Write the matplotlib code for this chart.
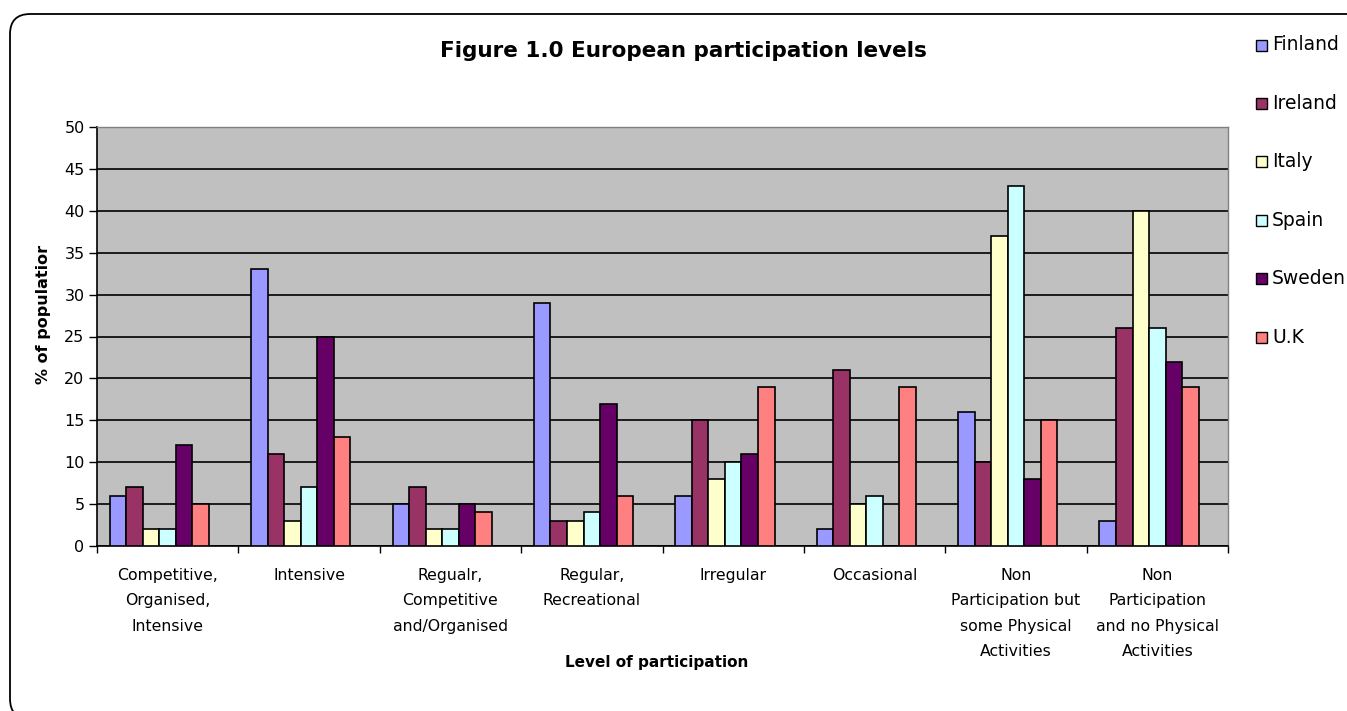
import matplotlib
matplotlib.use("Agg")
import matplotlib.pyplot as plt
import numpy as np
from matplotlib.patches import FancyBboxPatch, Rectangle

plt.rcParams['font.family'] = ['DejaVu Sans']

categories = ["Competitive,\nOrganised,\nIntensive", "Intensive",
              "Regualr,\nCompetitive\nand/Organised", "Regular,\nRecreational",
              "Irregular", "Occasional",
              "Non\nParticipation but\nsome Physical\nActivities",
              "Non\nParticipation\nand no Physical\nActivities"]
countries = ["Finland", "Ireland", "Italy", "Spain", "Sweden", "U.K"]
finland = [6, 33, 5, 29, 6, 2, 16, 3]
ireland = [7, 11, 7, 3, 15, 21, 10, 26]
italy = [2, 3, 2, 3, 8, 5, 37, 40]
spain = [2, 7, 2, 4, 10, 6, 43, 26]
sweden = [12, 25, 5, 17, 11, 0, 8, 22]
uk = [5, 13, 4, 6, 19, 19, 15, 19]
series = [finland, ireland, italy, spain, sweden, uk]
colors = ["#9999FF", "#993366", "#FFFFCC", "#CCFFFF", "#660066", "#FF8080"]

W, H = 1347, 711
fig = plt.figure(figsize=(W / 100, H / 100), dpi=100)
fig.patch.set_facecolor("white")

# rounded chart border (right and bottom edges run off the picture)
border = FancyBboxPatch((10 / W, -8 / H), 1400 / W, (H - 14 + 8) / H,
                        boxstyle="round,pad=0,rounding_size=0.015",
                        transform=fig.transFigure, facecolor="none",
                        edgecolor="black", linewidth=1.3, mutation_aspect=W / H)
fig.patches.append(border)

ax = fig.add_axes([97 / W, 1 - 546 / H, (1228 - 97) / W, (546 - 127) / H])
ax.set_facecolor("#C0C0C0")
x = np.arange(len(categories))
w = 0.117
for i, (vals, c) in enumerate(zip(series, colors)):
    ax.bar(x + (i - 3) * w, vals, width=w, color=c, edgecolor="black",
           linewidth=1.2, label=countries[i], zorder=3)

ax.set_xlim(-0.5, len(categories) - 0.5)
ax.set_ylim(0, 50)
ax.set_yticks(range(0, 51, 5))
ax.yaxis.grid(True, color="black", linewidth=1.2, zorder=1)
ax.set_axisbelow(True)
ax.set_xticks(np.arange(-0.5, len(categories), 1))
ax.set_xticklabels([])
ax.set_xticks(x, minor=True)
ax.set_xticklabels(categories, minor=True, fontsize=11.3, linespacing=1.85)
ax.tick_params(axis='x', which='minor', length=0, pad=16)
ax.tick_params(axis='x', which='major', length=5, width=1, color="black")
ax.tick_params(axis='y', length=6, width=1, labelsize=11.5, pad=3)
for s in ["top", "right"]:
    ax.spines[s].set_color("#808080")
    ax.spines[s].set_linewidth(1)
for s in ["left", "bottom"]:
    ax.spines[s].set_color("black")
    ax.spines[s].set_linewidth(1.2)

fig.text(657 / W, 1 - 662 / H, "Level of participation", fontsize=11,
         fontweight="bold", ha="center", va="center")
fig.text(44 / W, 1 - 314 / H, "% of populatior", rotation=90, fontsize=11.5,
         fontweight="bold", ha="center", va="center")
fig.text(683 / W, 1 - 51 / H, "Figure 1.0 European participation levels",
         fontsize=15.5, fontweight="bold", ha="center", va="center")

# legend
for i, (name, c) in enumerate(zip(countries, colors)):
    yc = 1 - (45 + i * 58.4) / H
    fig.patches.append(Rectangle((1256 / W, yc - 5.5 / H), 11 / W, 11 / H,
                                 transform=fig.transFigure, facecolor=c,
                                 edgecolor="black", linewidth=1))
    fig.text(1272 / W, yc, name, fontsize=13.5, ha="left", va="center")

fig.savefig("out.png", dpi=100)
